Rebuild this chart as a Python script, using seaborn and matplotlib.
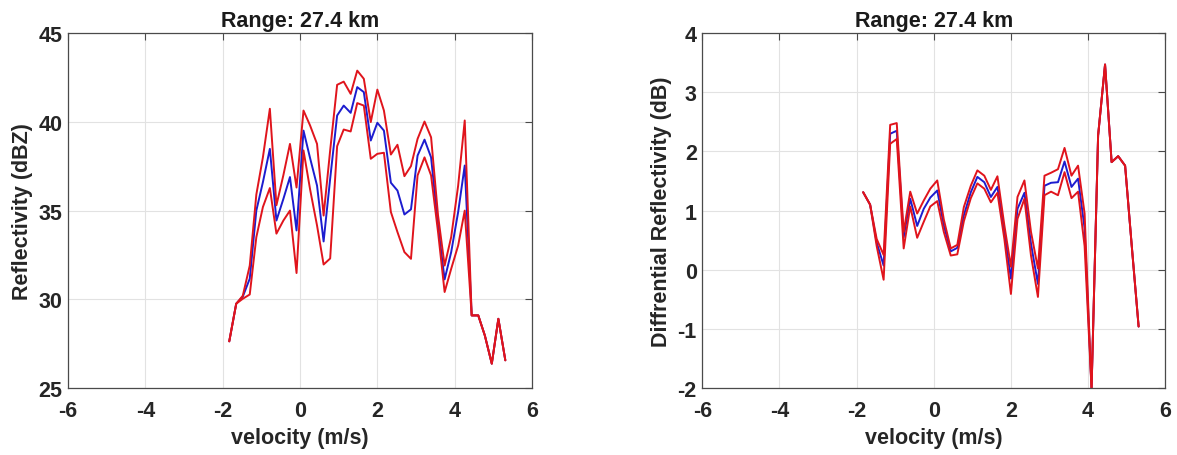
import pandas as pd
import matplotlib
matplotlib.use('Agg')
import matplotlib.pyplot as plt
import seaborn as sns

# doppler velocity bins (m/s)
velocity = [-1.83, -1.65, -1.48, -1.30, -1.13, -0.96, -0.78, -0.61, -0.43, -0.26,
            -0.09, 0.09, 0.26, 0.44, 0.61, 0.78, 0.96, 1.13, 1.31, 1.48,
            1.65, 1.83, 2.00, 2.17, 2.35, 2.52, 2.70, 2.87, 3.04, 3.22,
            3.39, 3.57, 3.74, 3.91, 4.09, 4.26, 4.44, 4.61, 4.78, 4.96,
            5.13, 5.31]

# reflectivity (dBZ): upper / mean / lower
z_upper = [27.63, 29.75, 30.20, 31.90, 35.90, 38.00, 40.74, 35.30, 37.00, 38.76,
           36.30, 40.64, 39.80, 38.76, 34.72, 38.40, 42.09, 42.27, 41.58, 42.89,
           42.43, 39.99, 41.82, 40.64, 38.16, 38.71, 36.94, 37.51, 39.04, 40.02,
           39.13, 34.72, 31.90, 33.51, 36.41, 40.08, 29.09, 29.09, 27.96, 26.37,
           28.90, 26.56]
z_mean = [27.63, 29.75, 30.15, 31.16, 35.00, 36.60, 38.48, 34.44, 35.66, 36.89,
          33.88, 39.51, 37.96, 36.41, 33.26, 36.80, 40.36, 40.92, 40.51, 41.96,
          41.68, 38.95, 39.95, 39.51, 36.57, 36.13, 34.78, 35.07, 38.10, 39.00,
          38.00, 34.15, 31.12, 32.66, 34.92, 37.54, 29.09, 29.09, 27.96, 26.37,
          28.90, 26.56]
z_lower = [27.63, 29.75, 30.03, 30.27, 33.50, 35.20, 36.27, 33.70, 34.44, 35.00,
           31.48, 38.39, 36.20, 34.16, 31.96, 32.30, 38.63, 39.57, 39.46, 41.06,
           40.92, 37.92, 38.20, 38.26, 34.92, 33.79, 32.66, 32.28, 36.98, 38.00,
           36.98, 33.79, 30.41, 31.72, 33.03, 35.00, 29.09, 29.09, 27.96, 26.37,
           28.90, 26.56]

# differential reflectivity (dB): upper / mean / lower
zdr_upper = [1.31, 1.10, 0.52, 0.25, 2.45, 2.48, 0.64, 1.32, 0.95, 1.17,
             1.37, 1.51, 0.85, 0.36, 0.42, 1.06, 1.42, 1.68, 1.59, 1.35,
             1.58, 0.75, 0.05, 1.23, 1.51, 0.64, 0.02, 1.59, 1.64, 1.70,
             2.06, 1.59, 1.76, 0.95, -2.02, 2.27, 3.47, 1.82, 1.92, 1.76,
             0.42, -0.96]
zdr_mean = [1.31, 1.10, 0.46, 0.07, 2.30, 2.35, 0.55, 1.20, 0.74, 1.03,
            1.22, 1.34, 0.75, 0.31, 0.37, 0.92, 1.31, 1.57, 1.48, 1.23,
            1.40, 0.64, -0.15, 1.03, 1.30, 0.44, -0.24, 1.42, 1.47, 1.48,
            1.83, 1.40, 1.54, 0.70, -2.02, 2.27, 3.47, 1.82, 1.92, 1.76,
            0.42, -0.96]
zdr_lower = [1.31, 1.10, 0.40, -0.17, 2.13, 2.21, 0.36, 1.07, 0.54, 0.81,
             1.07, 1.16, 0.64, 0.24, 0.26, 0.82, 1.21, 1.46, 1.37, 1.14,
             1.30, 0.52, -0.41, 0.86, 1.20, 0.24, -0.46, 1.26, 1.32, 1.26,
             1.65, 1.21, 1.32, 0.40, -2.02, 2.27, 3.47, 1.82, 1.92, 1.76,
             0.42, -0.96]

sns.set_style('white')
plt.rcParams['font.family'] = ['Liberation Sans', 'DejaVu Sans']
plt.rcParams['font.weight'] = 'bold'
plt.rcParams['axes.unicode_minus'] = False

red = '#e0141c'
blue = '#1c1ccf'

fig = plt.figure(figsize=(11.77, 4.56), dpi=100)
ax1 = fig.add_axes([0.0578, 0.147, 0.3942, 0.778])
ax2 = fig.add_axes([0.5967, 0.147, 0.3933, 0.778])


def draw(ax, mean, upper, lower, ylim, yticks, ylabel):
    sns.lineplot(x=velocity, y=mean, color=blue, lw=1.4, sort=False, estimator=None, ax=ax)
    sns.lineplot(x=velocity, y=upper, color=red, lw=1.4, sort=False, estimator=None, ax=ax)
    sns.lineplot(x=velocity, y=lower, color=red, lw=1.4, sort=False, estimator=None, ax=ax)
    ax.set_xlim(-6, 6)
    ax.set_ylim(*ylim)
    ax.set_xticks([-6, -4, -2, 0, 2, 4, 6])
    ax.set_yticks(yticks)
    ax.grid(True, color='#e2e2e2', lw=0.8)
    ax.set_axisbelow(True)
    for sp in ax.spines.values():
        sp.set_visible(True)
        sp.set_color('#4a4a4a')
        sp.set_linewidth(0.9)
    ax.tick_params(direction='in', top=True, right=True, length=5, width=0.8,
                   color='#4a4a4a', labelsize=15.5, labelcolor='#262626')
    ax.tick_params(axis='x', pad=9)
    ax.tick_params(axis='y', pad=4)
    for lab in ax.get_xticklabels() + ax.get_yticklabels():
        lab.set_fontweight('bold')
    ax.set_title('Range: 27.4 km', fontsize=15.5, fontweight='bold', color='#1a1a1a', pad=5)
    ax.set_xlabel('velocity (m/s)', fontsize=15.5, fontweight='bold', color='#262626', labelpad=4)
    ax.set_ylabel(ylabel, fontsize=15.5, fontweight='bold', color='#262626', labelpad=4)


draw(ax1, z_mean, z_upper, z_lower, (25, 45), [25, 30, 35, 40, 45], 'Reflectivity (dBZ)')
draw(ax2, zdr_mean, zdr_upper, zdr_lower, (-2, 4), [-2, -1, 0, 1, 2, 3, 4], 'Diffrential Reflectivity (dB)')

fig.savefig('out.png', dpi=100)
